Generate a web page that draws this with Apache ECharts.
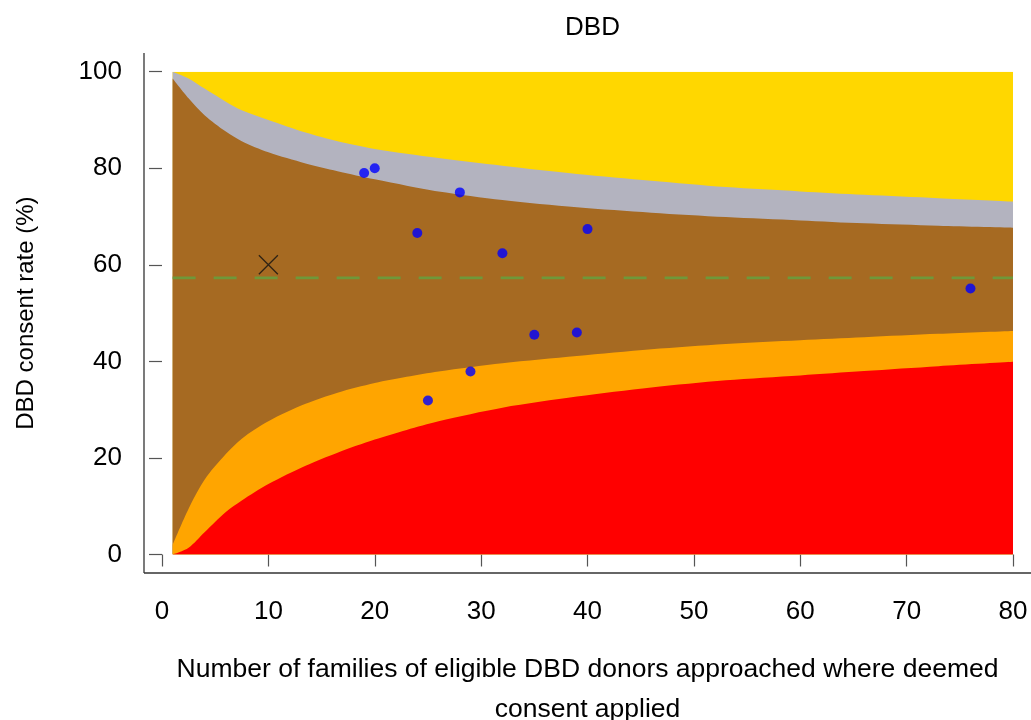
<!DOCTYPE html>
<html>
<head>
<meta charset="utf-8">
<script src="https://cdn.jsdelivr.net/npm/echarts@6/dist/echarts.min.js"></script>
<style>
  html, body { margin: 0; padding: 0; background: #fff; }
  #chart { width: 1031px; height: 720px; }
</style>
</head>
<body>
<div id="chart"></div>
<script>
// Funnel plot: DBD consent rate against number of families approached

// Sample sizes at which the control limits are tabulated
const limitN = [1, 2.5, 4, 6, 7.5, 10, 13.5, 16.5, 20, 23, 26, 32, 39, 46, 53, 60, 66, 73, 80];
// Upper 99.8% limit (%)
const upperOuter = [100, 98.6, 96.5, 93.8, 92.0, 90.0, 87.4, 85.6, 84.0, 83.0, 82.1, 80.5, 78.8, 77.4, 76.1, 75.2, 74.5, 73.8, 73.1];
// Upper 95% limit (%)
const upperInner = [98.6, 94.5, 91.0, 87.6, 85.6, 83.3, 81.0, 79.4, 77.7, 76.4, 75.2, 73.4, 71.9, 70.8, 69.9, 69.2, 68.6, 68.1, 67.7];
// Lower 95% limit (%)
const lowerInner = [2.0, 9.5, 15.5, 20.8, 24.0, 27.6, 31.2, 33.5, 35.5, 36.8, 37.9, 39.6, 41.1, 42.5, 43.6, 44.4, 45.0, 45.7, 46.3];
// Lower 99.8% limit (%)
const lowerOuter = [0, 1.4, 4.6, 8.8, 11.2, 14.6, 18.4, 21.1, 23.8, 25.8, 27.6, 30.4, 32.7, 34.6, 36.1, 37.1, 38.0, 39.0, 39.9];

// Overall consent rate (%)
const nationalRate = 57.3;
const nRange = [1, 80];

// Units: families approached and consent rate (%)
const unitN = [19, 20, 24, 25, 28, 29, 32, 35, 39, 40, 76];
const unitRate = [79.0, 80.0, 66.6, 31.9, 75.0, 37.9, 62.4, 45.5, 46.0, 67.4, 55.1];

// Highlighted unit
const highlightN = [10];
const highlightRate = [60.0];

// Axis ticks
const xTicks = [0, 10, 20, 30, 40, 50, 60, 70, 80];
const yTicks = [0, 20, 40, 60, 80, 100];

const FONT = "'Liberation Sans', Arial, Helvetica, sans-serif";
const grid = { left: 162, right: 18, top: 71.7, bottom: 165.5, containLabel: false, outerBoundsMode: 'none' };
const yAxisOffset = 18;
const xAxisOffset = 22.5;

const zip = (xs, ys) => xs.map((x, i) => [x, ys[i]]);

function band(name, data, color, z) {
  return {
    name, type: 'line', data, smooth: 0.3, symbol: 'none', z,
    lineStyle: { width: 0 },
    areaStyle: { color, opacity: 1, origin: 'start' },
    silent: true, animation: false
  };
}

const chart = echarts.init(document.getElementById('chart'), null, { renderer: 'canvas' });

const option = {
  backgroundColor: '#ffffff',
  animation: false,
  title: {
    text: 'DBD',
    left: grid.left + (1031 - grid.left - grid.right) / 2,
    textAlign: 'center',
    top: 10,
    textStyle: { fontFamily: FONT, fontSize: 26, fontWeight: 'normal', color: '#000' }
  },
  grid: grid,
  xAxis: {
    type: 'value', min: 0, max: 80, interval: 10,
    offset: xAxisOffset,
    axisLine: { show: false },
    axisTick: { show: true, length: 12, lineStyle: { color: '#555', width: 1.2 } },
    axisLabel: {
      margin: 22, fontFamily: FONT, fontSize: 26, color: '#000',
      formatter: v => (xTicks.includes(v) ? String(v) : '')
    },
    splitLine: { show: false },
    name: 'Number of families of eligible DBD donors approached where deemed\nconsent applied',
    nameLocation: 'middle',
    nameGap: 73,
    nameTextStyle: { fontFamily: FONT, fontSize: 26.5, color: '#000', lineHeight: 40 }
  },
  yAxis: {
    type: 'value', min: 0, max: 100, interval: 20,
    offset: yAxisOffset,
    axisLine: { show: false },
    axisTick: { show: true, length: 13, lineStyle: { color: '#555', width: 1.2 } },
    axisLabel: {
      margin: 22, fontFamily: FONT, fontSize: 26, color: '#000',
      formatter: v => (yTicks.includes(v) ? String(v) : '')
    },
    splitLine: { show: false },
    name: 'DBD consent rate (%)',
    nameLocation: 'middle',
    nameGap: 106,
    nameTextStyle: { fontFamily: FONT, fontSize: 24, color: '#000' }
  },
  series: [
    band('above', zip(nRange, [100, 100]), '#FFD700', 1),
    band('upper99', zip(limitN, upperOuter), '#B3B3BF', 2),
    band('upper95', zip(limitN, upperInner), '#A66A22', 3),
    band('lower95', zip(limitN, lowerInner), '#FFA500', 4),
    band('lower99', zip(limitN, lowerOuter), '#FF0000', 5),
    {
      name: 'national', type: 'line', z: 6, symbol: 'none', silent: true,
      data: zip(nRange, [nationalRate, nationalRate]),
      lineStyle: { color: '#6F983A', width: 2.7, type: [23, 18] }
    },
    {
      name: 'units', type: 'scatter', z: 7,
      data: zip(unitN, unitRate),
      symbol: 'circle', symbolSize: 10,
      itemStyle: { color: '#0000FF' }
    },
    {
      name: 'highlight', type: 'scatter', z: 8,
      data: zip(highlightN, highlightRate),
      symbol: 'path://M0,0L10,10M10,0L0,10', symbolSize: 19,
      itemStyle: { color: 'rgba(0,0,0,0)', borderColor: '#111', borderWidth: 1.3 }
    }
  ]
};

chart.setOption(option);

// Axis lines: left spine and bottom spine, joined at the corner
const W = 1031, H = 720;
const spineX = grid.left - yAxisOffset;
const spineY = H - grid.bottom + 18.5;
chart.setOption({
  graphic: [
    { type: 'line', shape: { x1: spineX, y1: 53, x2: spineX, y2: spineY },
      style: { stroke: '#333', lineWidth: 1.3 }, silent: true },
    { type: 'line', shape: { x1: spineX, y1: spineY, x2: W, y2: spineY },
      style: { stroke: '#333', lineWidth: 1.3 }, silent: true }
  ]
});
</script>
</body>
</html>
